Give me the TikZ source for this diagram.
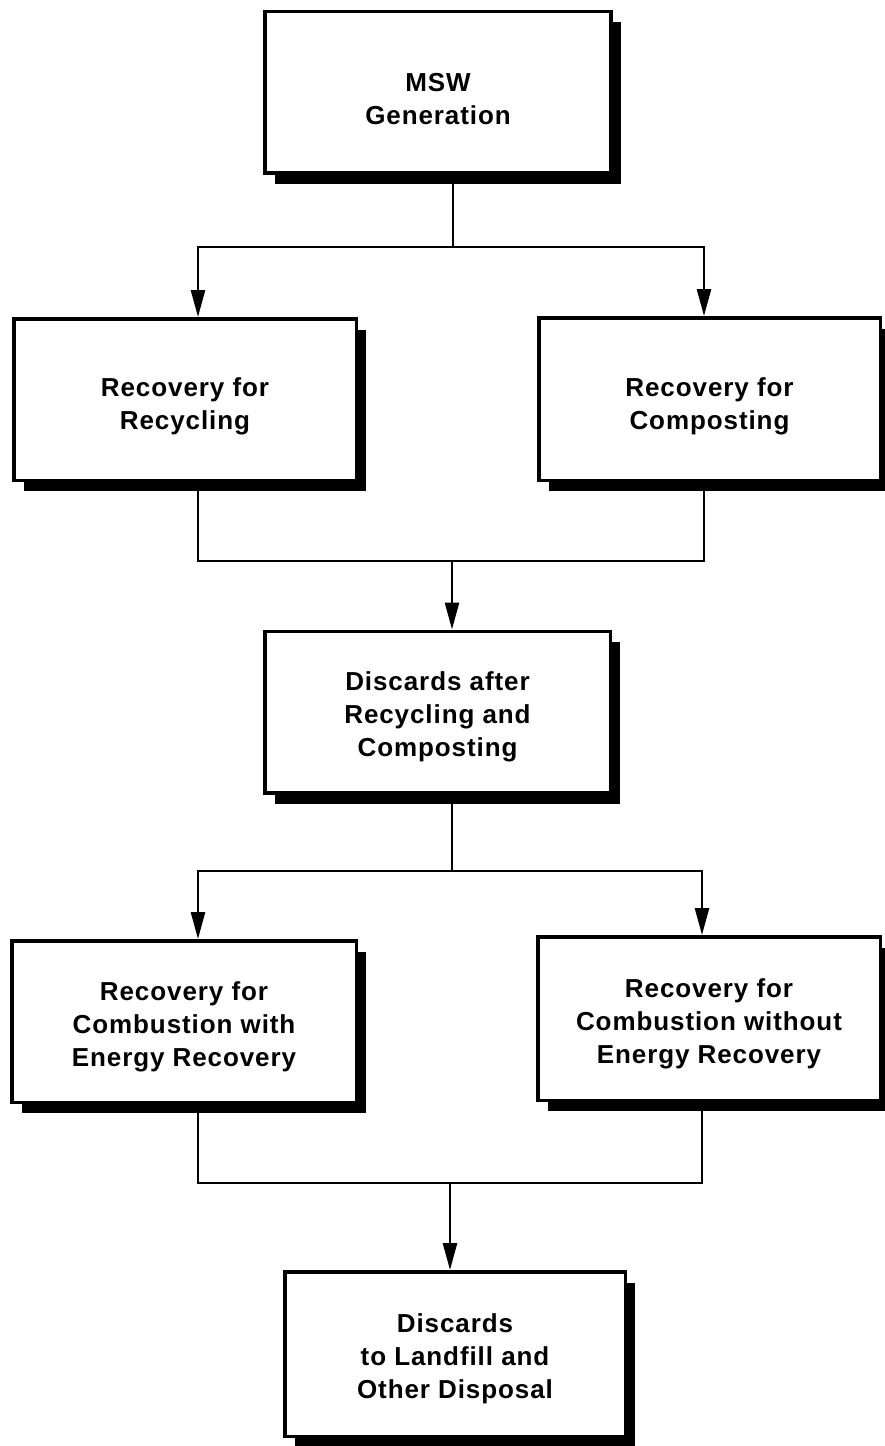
\documentclass[tikz,border=0pt]{standalone}
\usepackage{fontspec}
\setmainfont{Liberation Sans}[LetterSpace=3.5]
\usetikzlibrary{arrows.meta,shadows}
\begin{document}
\begin{tikzpicture}[x=1pt,y=-1pt,
  stage/.style={draw=black, line width=3.5pt, fill=white, rectangle, align=center,
    inner sep=0pt, font=\fontsize{26}{33}\selectfont\bfseries,
    drop shadow={shadow xshift=10pt, shadow yshift=-11pt, fill=black, opacity=1}},
  twolines/.style={text height=66pt},
  threelines/.style={text height=95pt},
  link/.style={line width=2.6pt},
  flow/.style={link, -{Triangle[length=27pt,width=14pt]}}]
\useasboundingbox (0,0) rectangle (884,1446);

% process stages
\node[stage, twolines, minimum width=346pt, minimum height=161.5pt] (msw) at (438,92) {MSW\\Generation};
\node[stage, twolines, minimum width=342.5pt, minimum height=161.5pt] (recyc) at (185,399.5) {Recovery for\\Recycling};
\node[stage, twolines, minimum width=341.5pt, minimum height=162.5pt] (compost) at (709.5,399) {Recovery for\\Composting};
\node[stage, threelines, minimum width=345.5pt, minimum height=161.5pt] (disc) at (437.5,712) {Discards after\\Recycling and\\Composting};
\node[stage, threelines, minimum width=344.5pt, minimum height=161.5pt] (cwith) at (184,1021.5) {Recovery for\\Combustion with\\Energy Recovery};
\node[stage, threelines, minimum width=342.5pt, minimum height=163.5pt] (cwo) at (709,1018.5) {Recovery for\\Combustion without\\Energy Recovery};
\node[stage, threelines, minimum width=340.5pt, minimum height=164.5pt] (land) at (455,1354) {Discards\\to Landfill and\\Other Disposal};

% junction points of the connectors
\coordinate (j1) at (453,247);
\coordinate (m1) at (452,561);
\coordinate (j2) at (452,871);
\coordinate (m2) at (450,1183);

% generation splits into the two recovery routes
\draw[link] (j1 |- msw.south) -- (j1);
\draw[flow] (j1) -| ([xshift=13pt]recyc.north);
\draw[flow] (j1) -| ([xshift=-5.5pt]compost.north);

% what is left after recycling and composting
\draw[link] ([xshift=13pt]recyc.south) |- (m1) -| ([xshift=-5.5pt]compost.south);
\draw[flow] (m1) -- ([xshift=14.5pt]disc.north);

% combustion routes
\draw[link] ([xshift=14.5pt]disc.south) -- (j2);
\draw[flow] (j2) -| ([xshift=14pt]cwith.north);
\draw[flow] (j2) -| ([xshift=-7pt]cwo.north);

% final discards
\draw[link] ([xshift=14pt]cwith.south) |- (m2) -| ([xshift=-7pt]cwo.south);
\draw[flow] (m2) -- ([xshift=-5pt]land.north);
\end{tikzpicture}
\end{document}
